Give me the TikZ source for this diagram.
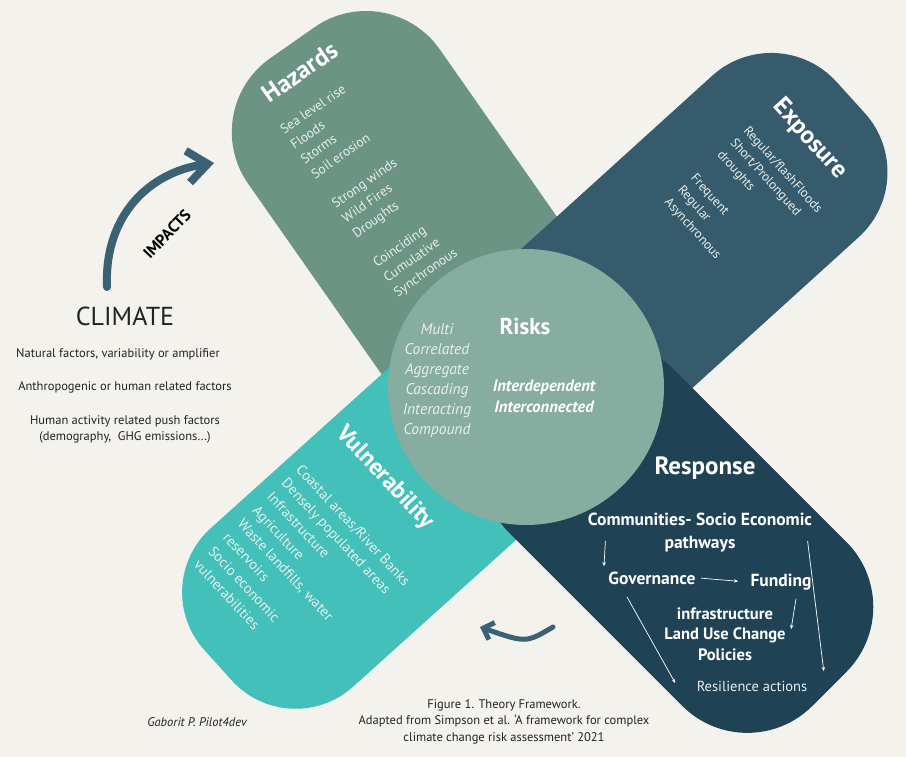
\documentclass[tikz,border=0pt]{standalone}
\usepackage{fontspec}
\setmainfont{PT Sans}
\usetikzlibrary{arrows.meta, positioning, calc}
\definecolor{bgpaper}{HTML}{F3F2ED}
\definecolor{hazgreen}{HTML}{6B9484}
\definecolor{expblue}{HTML}{365B6D}
\definecolor{resnavy}{HTML}{1F4254}
\definecolor{vulteal}{HTML}{43C0B9}
\definecolor{risksage}{HTML}{86ADA0}
\definecolor{impblue}{HTML}{3A6174}
\definecolor{inkdark}{HTML}{222222}
\definecolor{armtext}{HTML}{E9EFEC}
\newcommand{\fsz}[2]{\fontsize{#1}{#2}\selectfont}

\begin{document}
\begin{tikzpicture}[x=1pt, y=-1pt,
  armlist/.style={anchor=north west, inner sep=0pt, align=left, text=armtext},
  armtitle/.style={font=\fsz{25}{28}\bfseries, text=white},
  restext/.style={font=\fsz{17.5}{23}\bfseries, text=white},
  lefttext/.style={font=\fsz{12.5}{16}, text=inkdark},
  resarrow/.style={draw=white, line width=0.7pt, -{Stealth[length=4pt, width=3.5pt]}}]
\useasboundingbox (0,0) rectangle (906,757);
\fill[bgpaper] (0,0) rectangle (906,757);
% the four arms, all meeting under the risks circle
\begin{scope}[shift={(526,387)}, rotate=-55]
  \fill[hazgreen, rounded corners=90pt] (-416,-123) rectangle (0,111);
\end{scope}
\begin{scope}[shift={(526,387)}, rotate=42.2]
  \fill[expblue, rounded corners=88pt] (0,-105.5) rectangle (435,112.5);
\end{scope}
\begin{scope}[shift={(526,387)}, rotate=42]
  \fill[vulteal, rounded corners=86pt] (-415,-106) rectangle (0,107);
\end{scope}
\begin{scope}[shift={(526,387)}, rotate=-45]
  \fill[resnavy, rounded corners=92pt] (0,-117) rectangle (428,115);
\end{scope}
\node[circle, fill=risksage, minimum size=276pt, inner sep=0pt] (risk) at (526,387) {};

% hazards
\node[armtitle, rotate=35] (haztitle) at (300,72) {Hazards};
\node[armlist, font=\fsz{13.5}{18}, rotate=35] (hazlist) at (278.5,127)
  {Sea level rise\\Floods\\Storms\\Soil erosion\\[18pt]Strong winds\\Wild Fires\\Droughts\\[18pt]Coinciding\\Cumulative\\Synchronous};
% exposure
\node[armtitle, rotate=-48] (exptitle) at (810,139) {Exposure};
\node[armlist, font=\fsz{13}{17.7}, rotate=-48] (explist) at (750,125)
  {Regular/flashFloods\\Short/Prolongued\\droughts\\[17.7pt]Frequent\\Regular\\Asynchronous};
% vulnerability
\node[armtitle, font=\fsz{24}{28}\bfseries, rotate=-47] (vultitle) at (385,478) {Vulnerability};
\node[armlist, font=\fsz{14.5}{20}, rotate=-47] (vullist) at (303,463)
  {Coastal areas/River Banks\\Densely populated areas\\Infrastructure\\Agriculture\\Waste landfills, water\\reservoirs\\Socio economic\\vulnerabilities};

% risks
\node[font=\fsz{23}{25}\bfseries, text=white] (risktitle) at (525,326) {Risks};
\node[font=\fsz{15.5}{20}\itshape, text=armtext, align=center] (risktypes) at (437,381)
  {Multi\\Correlated\\Aggregate\\Cascading\\Interacting\\Compound};
\node[font=\fsz{16.5}{21}\bfseries\itshape, text=white, align=center] (riskinter) at (544,396)
  {Interdependent\\Interconnected};

% response
\node[font=\fsz{25}{27}\bfseries, text=white] (restitle) at (705,468) {Response};
\node[restext, align=center] (comm) at (700,533) {Communities- Socio Economic\\pathways};
\node[restext] (gov) at (652,578) {Governance};
\node[restext] (fund) at (781,582) {Funding};
\node[restext, font=\fsz{16.5}{20.5}\bfseries, align=center] (infra) at (725,634) {infrastructure\\Land Use Change\\Policies};
\node[font=\fsz{14.5}{16}, text=armtext] (resil) at (752,686) {Resilience actions};
\draw[resarrow, shorten <=2pt, shorten >=9pt] (gov.east) -- (fund.west);
\draw[resarrow] ([shift={(21pt,-8pt)}]comm.west) -- ([shift={(-1pt,2pt)}]gov.north west);
\draw[resarrow] ([shift={(15pt,-5pt)}]fund.south) -- ([shift={(2pt,5pt)}]infra.east);
\draw[resarrow] ([shift={(-25pt,-9pt)}]gov.south) -- ([shift={(-18pt,3pt)}]resil.west);
\draw[resarrow] ([shift={(-8pt,-8pt)}]comm.east) -- ([shift={(13pt,15pt)}]resil.east);

% climate side
\node[font=\fsz{26}{28}, text=inkdark] (climate) at (125,316) {CLIMATE};
\node[lefttext] (natural) at (118,354) {Natural factors, variability or amplifier};
\node[lefttext] (anthro) at (125,387) {Anthropogenic or human related factors};
\node[lefttext, align=center] (human) at (125,429) {Human activity related push factors\\(demography,\ \ GHG emissions...)};
\coordinate (climtail) at (107,287);
\coordinate (haztip) at (214,163);
\draw[impblue, line width=8pt, line cap=round, -{Straight Barb[length=20pt, width=32pt]}]
  (climtail) .. controls (104,215) and (150,172) .. (haztip);
\node[font=\fsz{16}{18}\bfseries, text=black, rotate=46] (impacts) at (167,234) {IMPACTS};

% feedback arrow
\coordinate (restail) at (553,627);
\coordinate (vultip) at (480,627);
\draw[impblue, line width=5pt, line cap=round, -{Straight Barb[length=9pt, width=18pt]}]
  (restail) .. controls (526,643) .. (vultip);

% credits
\node[font=\fsz{12.5}{16.5}, text=inkdark, align=center] (caption) at (504,721.5)
  {Figure 1. Theory Framework.\\Adapted from Simpson et al. ‘A framework for complex\\climate change risk assessment’ 2021};
\node[font=\fsz{12.5}{14}\itshape, text=inkdark] (credit) at (197,722) {Gaborit P. Pilot4dev};
\end{tikzpicture}
\end{document}
